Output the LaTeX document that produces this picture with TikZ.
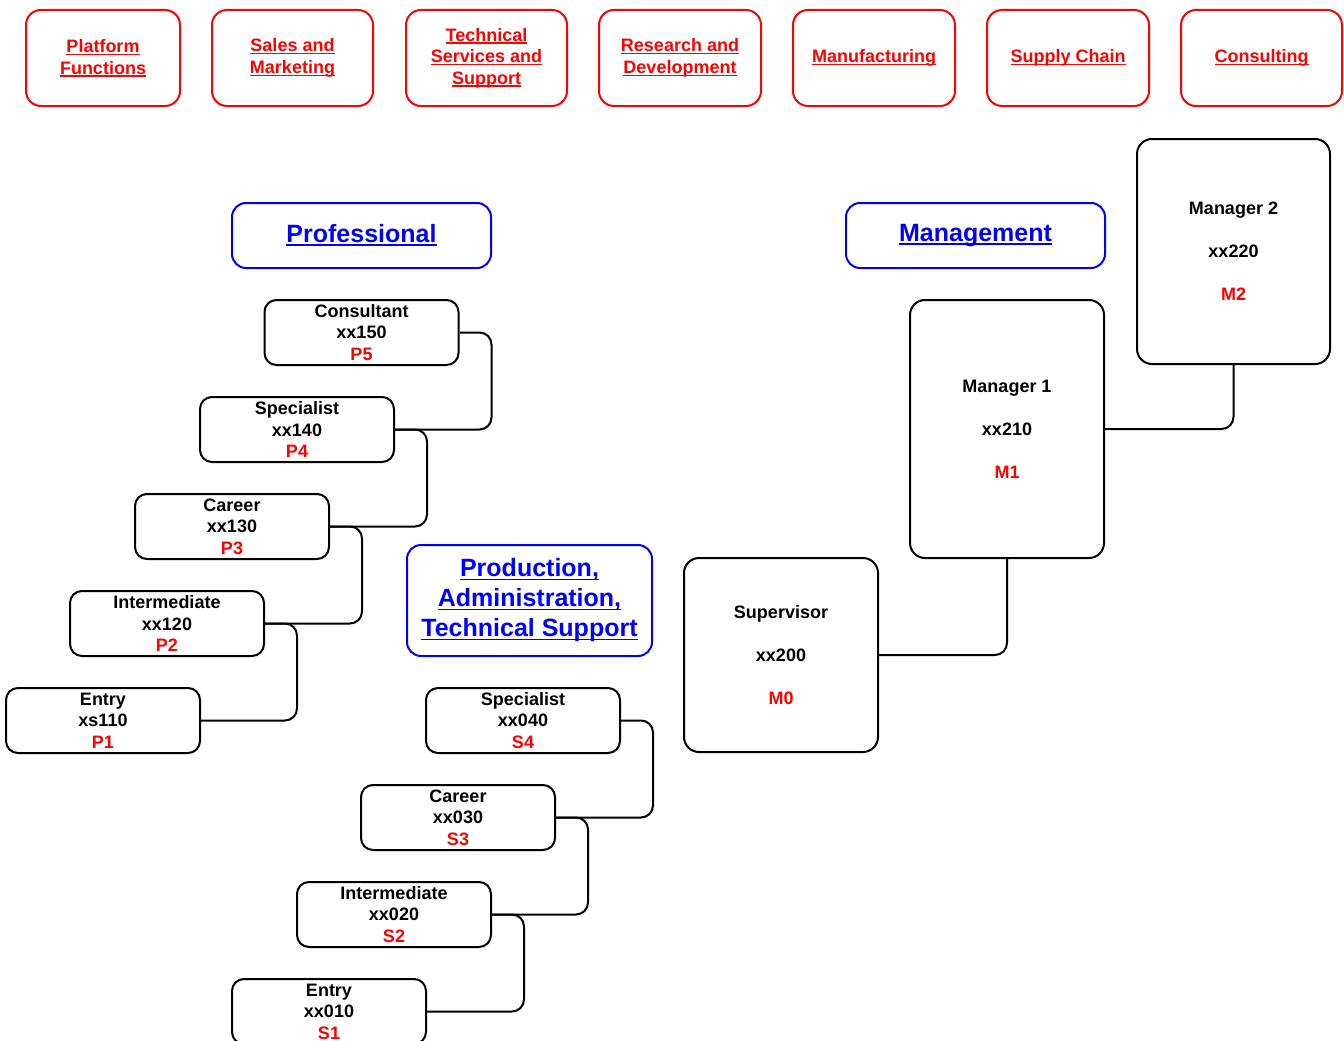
\documentclass[tikz,border=0pt]{standalone}
\usepackage{fontspec}
\setmainfont{Liberation Sans}
\newcommand\ulx[1]{\setbox0=\hbox{#1}\leavevmode\rlap{\rule[-0.14em]{\wd0}{0.075em}}\box0}
\tikzset{
  topbox/.style={draw=red, text=red, line width=2pt, rounded corners=15pt,
    minimum width=160pt, minimum height=96pt, align=center, inner sep=0pt,
    font=\bfseries\fontsize{18}{21.5}\selectfont},
  titlebox/.style={draw=blue, text=blue, line width=2pt, rounded corners=14pt,
    align=center, inner sep=0pt, font=\bfseries\fontsize{25}{30}\selectfont},
  rankbox/.style={draw, line width=2pt, rounded corners=12pt,
    minimum width=194pt, minimum height=65pt, align=center, inner sep=0pt,
    font=\bfseries\fontsize{18}{21.5}\selectfont},
  mgrbox/.style={draw, line width=2pt, rounded corners=15pt,
    minimum width=194pt, align=center, inner sep=0pt,
    font=\bfseries\fontsize{18}{43}\selectfont},
  conn/.style={draw, line width=2pt, rounded corners=12pt},
  code/.style={text=red}
}
\begin{document}
\begin{tikzpicture}[x=1pt,y=-1pt]
\useasboundingbox (0,0) rectangle (1344,1041);
% top row
\node[topbox, minimum width=154pt] (t1) at (103,58) {\ulx{Platform}\\\ulx{Functions}};
\node[topbox, minimum width=161pt] (t2) at (292.5,58) {\ulx{Sales and}\\\ulx{Marketing}};
\node[topbox, minimum width=161pt] (t3) at (486.5,58) {\ulx{Technical}\\\ulx{Services and}\\\ulx{Support}};
\node[topbox, minimum width=162pt] (t4) at (680,58) {\ulx{Research and}\\\ulx{Development}};
\node[topbox, minimum width=162pt] (t5) at (874,58) {\ulx{Manufacturing}};
\node[topbox, minimum width=162pt] (t6) at (1068,58) {\ulx{Supply Chain}};
\node[topbox, minimum width=161pt] (t7) at (1261.5,58) {\ulx{Consulting}};
% titles
\node[titlebox, minimum width=259pt, minimum height=65pt] (prof) at (361.5,235.5) {\ulx{Professional}};
\node[titlebox, minimum width=259pt, minimum height=65pt] (mgmt) at (975.5,235.5) {\ulx{Management}};
\node[titlebox, minimum width=245pt, minimum height=111pt] (prod) at (529.5,600.5) {\ulx{Production,}\\\ulx{Administration,}\\\ulx{Technical Support}};
% professional ladder
\node[rankbox] (p5) at (361.5,332.5) {Consultant\\xx150\\\textcolor{red}{P5}};
\node[rankbox] (p4) at (297,429.5) {Specialist\\xx140\\\textcolor{red}{P4}};
\node[rankbox] (p3) at (232,526.5) {Career\\xx130\\\textcolor{red}{P3}};
\node[rankbox] (p2) at (167,623.5) {Intermediate\\xx120\\\textcolor{red}{P2}};
\node[rankbox] (p1) at (103,720.5) {Entry\\xs110\\\textcolor{red}{P1}};
% support ladder
\node[rankbox] (s4) at (523,720.5) {Specialist\\xx040\\\textcolor{red}{S4}};
\node[rankbox] (s3) at (458,817.5) {Career\\xx030\\\textcolor{red}{S3}};
\node[rankbox] (s2) at (394,914.5) {Intermediate\\xx020\\\textcolor{red}{S2}};
\node[rankbox] (s1) at (329,1011.5) {Entry\\xx010\\\textcolor{red}{S1}};
% management
\node[mgrbox, minimum height=194pt] (m0) at (781,655) {Supervisor\\xx200\\\textcolor{red}{M0}};
\node[mgrbox, minimum height=258pt] (m1) at (1007,429) {Manager 1\\xx210\\\textcolor{red}{M1}};
\node[mgrbox, minimum width=193pt, minimum height=225pt] (m2) at (1233.5,251.5) {Manager 2\\xx220\\\textcolor{red}{M2}};
% connectors
\draw[conn] (p4.east) -| ([xshift=32pt]p5.east) -- (p5.east);
\draw[conn] (p3.east) -| ([xshift=32pt]p4.east) -- (p4.east);
\draw[conn] (p2.east) -| ([xshift=32pt]p3.east) -- (p3.east);
\draw[conn] (p1.east) -| ([xshift=32pt]p2.east) -- (p2.east);
\draw[conn] (s3.east) -| ([xshift=32pt]s4.east) -- (s4.east);
\draw[conn] (s2.east) -| ([xshift=32pt]s3.east) -- (s3.east);
\draw[conn] (s1.east) -| ([xshift=32pt]s2.east) -- (s2.east);
\draw[conn] (m0.east) -| (m1.south);
\draw[conn] (m1.east) -| (m2.south);
\end{tikzpicture}
\end{document}
